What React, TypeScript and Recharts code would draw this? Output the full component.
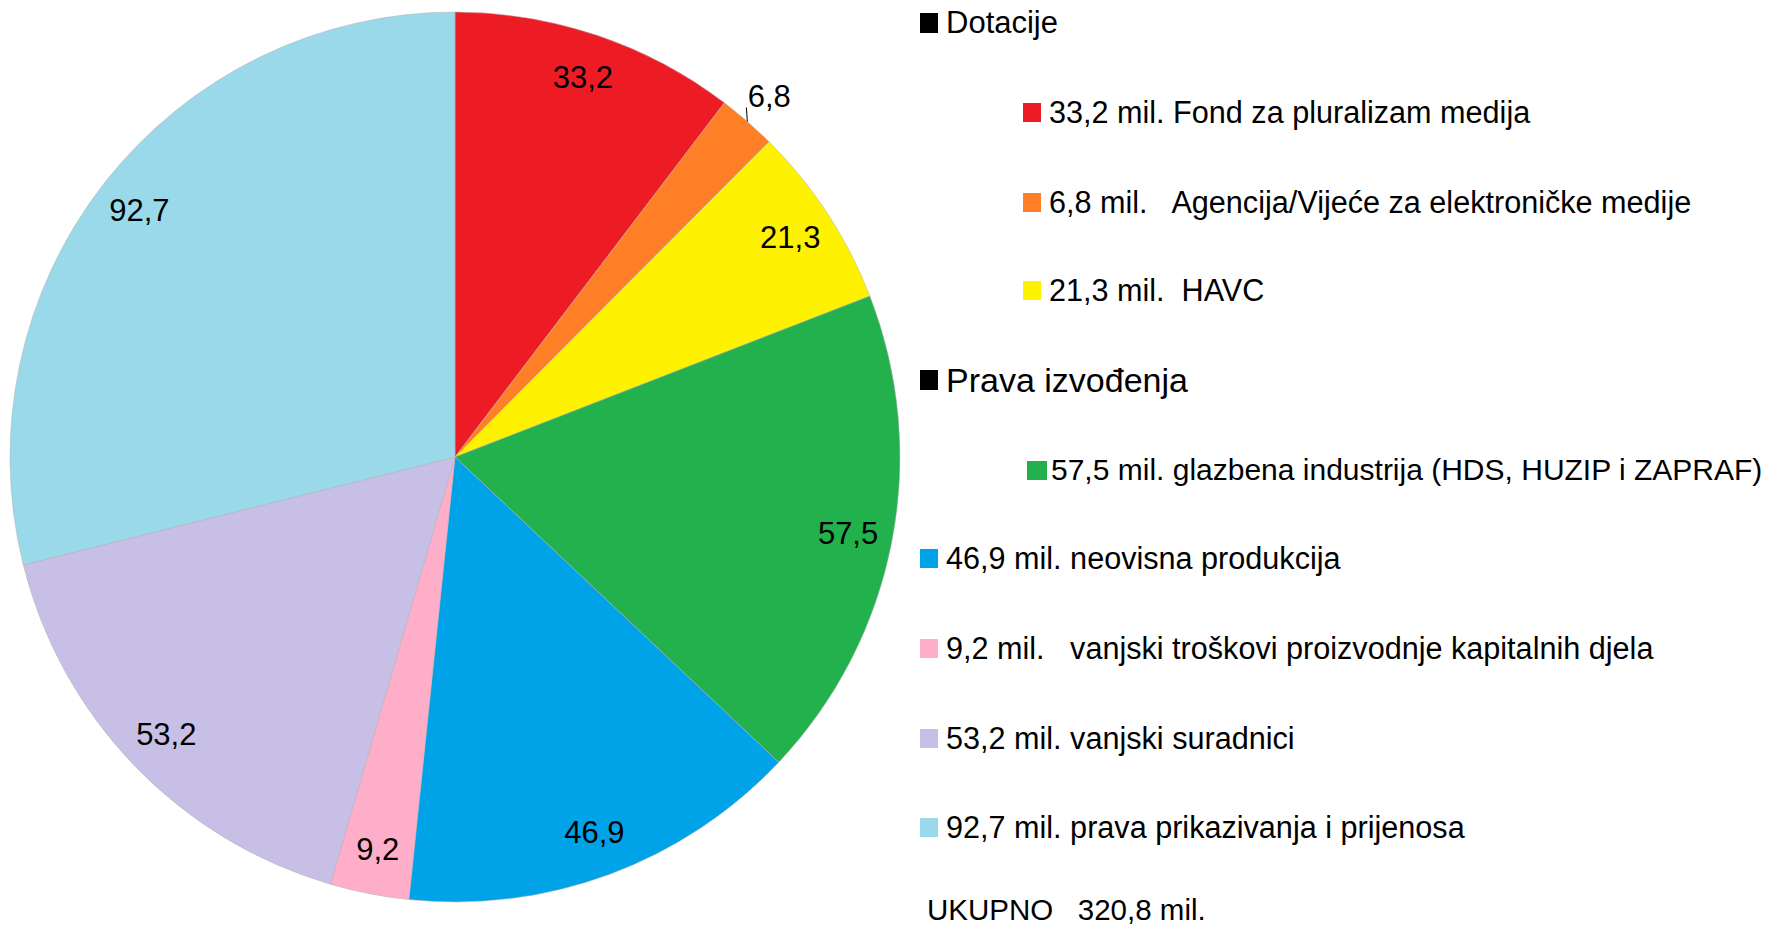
import React from 'react';
import { PieChart, Pie, Cell } from 'recharts';

// Values in millions, clockwise from 12 o'clock
const values = [33.2, 6.8, 21.3, 57.5, 46.9, 9.2, 53.2, 92.7];
const labels = [
  'Fond za pluralizam medija',
  'Agencija/Vijeće za elektroničke medije',
  'HAVC',
  'glazbena industrija (HDS, HUZIP i ZAPRAF)',
  'neovisna produkcija',
  'vanjski troškovi proizvodnje kapitalnih djela',
  'vanjski suradnici',
  'prava prikazivanja i prijenosa',
];
// spacing after "mil." as it appears in the legend
const gaps = [' ', '   ', '  ', ' ', ' ', '   ', ' ', ' '];
const colors = ['#ED1C24', '#FF7F27', '#FFF200', '#22B14C', '#00A2E8', '#FFAEC9', '#C8BFE7', '#99D9EA'];
const groups = [
  { title: 'Dotacije', before: 0 },
  { title: 'Prava izvođenja', before: 3 },
];
const indented = [0, 1, 2, 3];
const totalTitle = 'UKUPNO';

const data = values.map((v, i) => ({ name: labels[i], value: v }));
const fmt = (v: number) => v.toFixed(1).replace('.', ',');
const total = values.reduce((a, b) => a + b, 0);

const FONT = '"Liberation Sans", Arial, sans-serif';
const RADIAN = Math.PI / 180;

const renderLabel = (props: any) => {
  const { cx, cy, midAngle, outerRadius, value, index } = props;
  const cos = Math.cos(-midAngle * RADIAN);
  const sin = Math.sin(-midAngle * RADIAN);
  if (index === 1) {
    // small slice: label sits outside with a short tick
    const ex = cx + outerRadius * cos;
    const ey = cy + outerRadius * sin;
    const tx = cx + outerRadius * 1.075 * cos;
    const ty = cy + outerRadius * 1.075 * sin;
    return (
      <g>
        <line x1={ex} y1={ey} x2={ex - 1} y2={ey - 14} stroke="#000" strokeWidth={1} />
        <text x={tx} y={ty} textAnchor="middle" dominantBaseline="central" fontSize={31} fontFamily={FONT} fill="#000">
          {fmt(value)}
        </text>
      </g>
    );
  }
  const r = outerRadius * 0.9;
  return (
    <text
      x={cx + r * cos}
      y={cy + r * sin}
      textAnchor="middle"
      dominantBaseline="central"
      fontSize={31}
      fontFamily={FONT}
      fill="#000"
    >
      {fmt(value)}
    </text>
  );
};

// legend row centres (px from top)
const rowY = [23, 112, 202, 290, 380, 470, 558, 648, 738, 827];

const LegendBlock: React.FC = () => {
  const rows: { kind: 'head' | 'item'; idx: number }[] = [];
  values.forEach((_, i) => {
    groups.forEach((g, gi) => {
      if (g.before === i) rows.push({ kind: 'head', idx: gi });
    });
    rows.push({ kind: 'item', idx: i });
  });
  return (
    <>
      {rows.map((row, k) => {
        const y = rowY[k];
        if (row.kind === 'head') {
          const g = groups[row.idx];
          const big = row.idx === 1;
          return (
            <div key={k} style={{ position: 'absolute', left: 920, top: y - 20, height: 40, display: 'flex', alignItems: 'center', whiteSpace: 'pre' }}>
              <span style={{ width: 18, height: 20, background: '#000', marginRight: 8 }} />
              <span style={{ fontSize: big ? 34 : 31, lineHeight: '40px', color: '#000' }}>{g.title}</span>
            </div>
          );
        }
        const i = row.idx;
        const ind = indented.includes(i);
        return (
          <div key={k} style={{ position: 'absolute', left: ind ? (i === 3 ? 1027 : 1023) : 920, top: y - 20, height: 40, display: 'flex', alignItems: 'center', whiteSpace: 'pre' }}>
            <span style={{ width: i === 3 ? 20 : 18, height: 19, background: colors[i], marginRight: i === 3 ? 4 : 8 }} />
            <span style={{ fontSize: i === 3 ? 30 : 30.6, lineHeight: '40px', color: '#000' }}>{`${fmt(values[i])} mil.${gaps[i]}${labels[i]}`}</span>
          </div>
        );
      })}
      <div style={{ position: 'absolute', left: 927, top: 910 - 20, height: 40, display: 'flex', alignItems: 'center', whiteSpace: 'pre' }}>
        <span style={{ fontSize: 29.5, lineHeight: '40px', color: '#000' }}>{`${totalTitle}   ${fmt(total)} mil.`}</span>
      </div>
    </>
  );
};

export default function App() {
  return (
    <div style={{ position: 'absolute', left: 0, top: 0, width: 1775, height: 925, background: '#fff', fontFamily: FONT, overflow: 'hidden' }}>
      <PieChart width={1775} height={925} margin={{ top: 0, right: 0, bottom: 0, left: 0 }}>
        <Pie
          data={data}
          dataKey="value"
          nameKey="name"
          cx={455}
          cy={457}
          outerRadius={445}
          startAngle={90}
          endAngle={-270}
          stroke="#b0b0b0"
          strokeWidth={0.5}
          label={renderLabel}
          labelLine={false}
          isAnimationActive={false}
        >
          {data.map((d, i) => (
            <Cell key={d.name} fill={colors[i]} />
          ))}
        </Pie>
      </PieChart>
      <LegendBlock />
    </div>
  );
}
